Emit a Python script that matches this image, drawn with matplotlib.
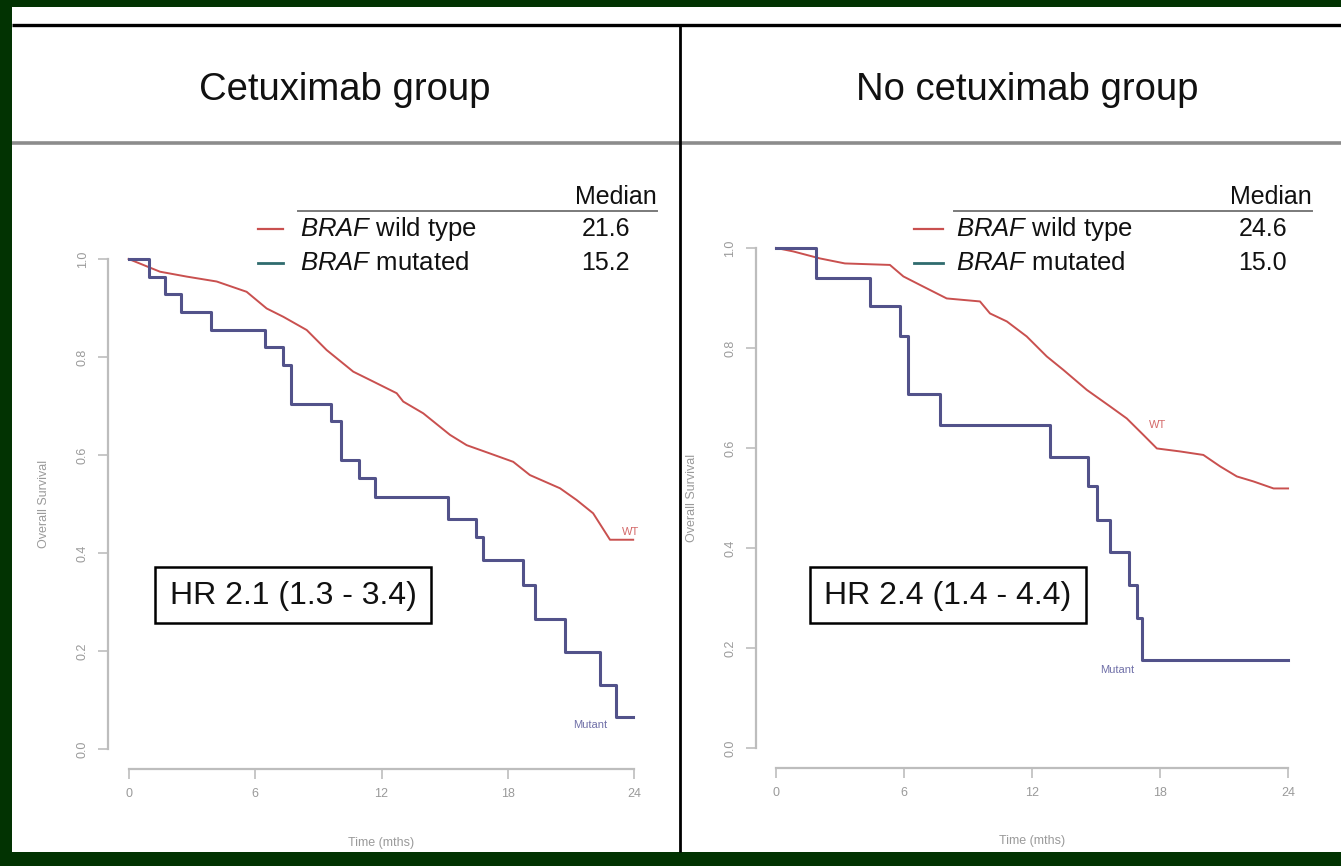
import matplotlib
matplotlib.use("Agg")
import matplotlib.pyplot as plt
from matplotlib.patches import Rectangle

plt.rcParams['font.family'] = ['Liberation Sans', 'DejaVu Sans']
plt.rcParams['mathtext.fontset'] = 'custom'
plt.rcParams['mathtext.it'] = 'Liberation Sans:italic'
plt.rcParams['mathtext.rm'] = 'Liberation Sans'

# ---- data (months, survival) ----
panel_titles = ["Cetuximab group", "No cetuximab group"]
hr_labels = ["HR 2.1 (1.3 - 3.4)", "HR 2.4 (1.4 - 4.4)"]
median_wt = ["21.6", "24.6"]
median_mut = ["15.2", "15.0"]

cetux_wt_t = [0, 1.49, 2.76, 4.18, 5.6, 6.55, 7.34, 8.45, 9.4, 10.66, 11.6, 12.72,
              13.03, 13.98, 15.25, 16.04, 17.15, 18.25, 19.04, 20.47, 21.26, 22.04,
              22.84, 23.94]
cetux_wt_s = [1.0, 0.974, 0.964, 0.954, 0.933, 0.899, 0.882, 0.855, 0.814, 0.77, 0.75,
              0.726, 0.709, 0.685, 0.641, 0.62, 0.603, 0.586, 0.559, 0.532, 0.508,
              0.481, 0.427, 0.427]
cetux_mut_t = [0, 0.98, 1.73, 2.47, 3.91, 6.47, 7.31, 7.7, 9.6, 10.06, 10.94, 11.69,
               15.17, 16.5, 16.83, 18.72, 19.3, 20.7, 22.36, 23.12, 23.94]
cetux_mut_s = [1.0, 0.964, 0.929, 0.892, 0.855, 0.821, 0.784, 0.705, 0.669, 0.59, 0.552,
               0.514, 0.469, 0.433, 0.386, 0.335, 0.265, 0.197, 0.131, 0.066, 0.066]

nocetux_wt_t = [0, 0.81, 2.06, 3.23, 5.34, 5.97, 6.75, 8.0, 9.56, 10.03, 10.82, 11.75,
                12.69, 13.47, 14.57, 15.66, 16.44, 17.22, 17.85, 18.94, 20.03, 20.82,
                21.6, 22.38, 23.32, 24.0]
nocetux_wt_s = [1.0, 0.993, 0.979, 0.969, 0.966, 0.943, 0.926, 0.899, 0.893, 0.869,
                0.853, 0.823, 0.783, 0.756, 0.716, 0.683, 0.659, 0.626, 0.599, 0.593,
                0.586, 0.563, 0.543, 0.533, 0.519, 0.519]
nocetux_mut_t = [0, 1.88, 4.41, 5.81, 6.2, 7.69, 12.85, 14.64, 15.03, 15.66, 16.56,
                 16.91, 17.14, 24.0]
nocetux_mut_s = [1.0, 0.939, 0.883, 0.824, 0.708, 0.646, 0.581, 0.523, 0.456, 0.391,
                 0.326, 0.259, 0.175, 0.175]

x_ticks = [0, 6, 12, 18, 24]
y_ticks = [0.0, 0.2, 0.4, 0.6, 0.8, 1.0]
y_ticklabels = ["0.0", "0.2", "0.4", "0.6", "0.8", "1.0"]

WT_COL = "#c9504f"
MUT_COL = "#52528a"
GREEN = "#023302"
AXIS_GREY = "#bdbdbd"
LABEL_GREY = "#9a9a9a"

W, H = 1341, 866
fig = plt.figure(figsize=(W / 100, H / 100), dpi=100, facecolor=GREEN)

# background layer in pixel coordinates
bg = fig.add_axes([0, 0, 1, 1], zorder=0)
bg.set_xlim(0, W)
bg.set_ylim(H, 0)
bg.axis("off")
bg.add_patch(Rectangle((12, 7), W - 12, 845, facecolor="white", edgecolor="none"))
bg.plot([12, W], [25, 25], color="black", lw=2.4, solid_capstyle="butt")
bg.plot([12, W], [143, 143], color="#8c8c8c", lw=2.6, solid_capstyle="butt")
bg.plot([680, 680], [25, 852], color="black", lw=2.0, solid_capstyle="butt")

title_x = [345, 1027]
for tx, title in zip(title_x, panel_titles):
    bg.text(tx, 90, title, fontsize=27.5, ha="center", va="center", color="#111111")

# legend tables (Median column)
legend_cfg = [
    dict(key=(258, 283), text_x=300, line=(298, 657), val_x=630, head_x=657),
    dict(key=(914, 943), text_x=956, line=(954, 1312), val_x=1287, head_x=1312),
]
for i, cfg in enumerate(legend_cfg):
    bg.text(cfg["head_x"], 197, "Median", fontsize=18, ha="right", va="center",
            color="#111111")
    bg.plot(cfg["line"], [211, 211], color="#7a7a7a", lw=1.4)
    bg.plot(cfg["key"], [229, 229], color=WT_COL, lw=1.6)
    bg.plot(cfg["key"], [263, 263], color="#2f6b6e", lw=2.0)
    bg.text(cfg["text_x"], 229, r"$\it{BRAF}$ wild type", fontsize=18.5, ha="left",
            va="center", color="#111111")
    bg.text(cfg["text_x"], 263, r"$\it{BRAF}$ mutated", fontsize=18.5, ha="left",
            va="center", color="#111111")
    bg.text(cfg["val_x"], 229, median_wt[i], fontsize=18, ha="right", va="center",
            color="#111111")
    bg.text(cfg["val_x"], 263, median_mut[i], fontsize=18, ha="right", va="center",
            color="#111111")

# hazard ratio boxes
hr_box_x = [155, 810]
for bx, lab in zip(hr_box_x, hr_labels):
    bg.add_patch(Rectangle((bx, 567), 276, 56, facecolor="white", edgecolor="black",
                           lw=1.8, zorder=3))
    bg.text(bx + 138, 596, lab, fontsize=23, ha="center", va="center",
            color="#111111", zorder=4)

# Kaplan-Meier panels
panels = [
    dict(rect=[0.0808, 0.1125, 0.4074, 0.6111], wt=(cetux_wt_t, cetux_wt_s),
         mut=(cetux_mut_t, cetux_mut_s), ylab_x=-0.107, xlab_y=-0.129,
         wt_lab=(23.8, 0.443), mut_lab=(21.9, 0.049)),
    dict(rect=[0.5634, 0.1132, 0.4124, 0.6236], wt=(nocetux_wt_t, nocetux_wt_s),
         mut=(nocetux_mut_t, nocetux_mut_s), ylab_x=-0.104, xlab_y=-0.124,
         wt_lab=(17.9, 0.646), mut_lab=(15.97, 0.156)),
]

for p in panels:
    ax = fig.add_axes(p["rect"], zorder=1)
    ax.patch.set_alpha(0)
    ax.set_xlim(-0.96, 24.96)
    ax.set_ylim(-0.04, 1.04)

    ax.plot(p["wt"][0], p["wt"][1], color=WT_COL, lw=1.4)
    ax.step(p["mut"][0], p["mut"][1], where="post", color=MUT_COL, lw=2.2)

    ax.text(p["wt_lab"][0], p["wt_lab"][1], "WT", color="#d46a6a", fontsize=8,
            ha="center", va="center")
    ax.text(p["mut_lab"][0], p["mut_lab"][1], "Mutant", color="#7070a8", fontsize=8,
            ha="center", va="center")

    for side in ["top", "right"]:
        ax.spines[side].set_visible(False)
    for side in ["left", "bottom"]:
        ax.spines[side].set_color(AXIS_GREY)
        ax.spines[side].set_linewidth(1.6)
    ax.spines["left"].set_bounds(0, 1)
    ax.spines["bottom"].set_bounds(0, 24)

    ax.set_xticks(x_ticks)
    ax.set_xticklabels([str(v) for v in x_ticks])
    ax.set_yticks(y_ticks)
    ax.set_yticklabels(y_ticklabels, rotation=90, va="center")
    ax.tick_params(colors=AXIS_GREY, labelcolor=LABEL_GREY, length=7, width=1.2,
                   labelsize=9, pad=7)

    ax.set_xlabel("Time (mths)", color=LABEL_GREY, fontsize=9)
    ax.xaxis.set_label_coords(0.5, p["xlab_y"])
    ax.set_ylabel("Overall Survival", color=LABEL_GREY, fontsize=9)
    ax.yaxis.set_label_coords(p["ylab_x"], 0.5)

fig.savefig("out.png", dpi=100, facecolor=fig.get_facecolor())
